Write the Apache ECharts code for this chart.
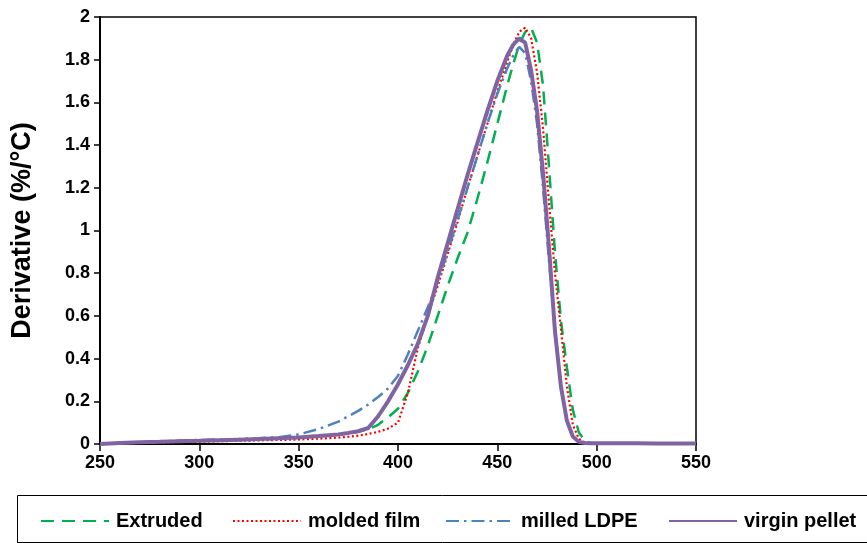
<!DOCTYPE html>
<html>
<head>
<meta charset="utf-8">
<script src="https://cdn.jsdelivr.net/npm/echarts@6/dist/echarts.min.js"></script>
<style>
html,body{margin:0;padding:0;background:#fff;}
#chart{width:867px;height:543px;}
</style>
</head>
<body>
<div id="chart"></div>
<script>
// Temperature (°C)
var temps = [250,260,270,280,290,300,310,320,330,340,350,360,370,
  375,380,385,390,395,400,405,410,415,420,425,430,435,440,445,450,455,
  458,461,464,467,470,473,476,479,482,485,488,491,494,497,
  500,510,520,530,540,550];

// Derivative (%/°C)
var extruded = [0,0.004,0.007,0.01,0.012,0.015,0.017,0.02,0.022,0.026,0.03,0.036,0.044,
  0.05,0.057,0.068,0.09,0.125,0.165,0.24,0.34,0.46,0.6,0.74,0.87,0.99,1.15,1.32,1.5,1.68,
  1.78,1.87,1.93,1.95,1.88,1.68,1.3,0.9,0.58,0.36,0.16,0.055,0.015,0.005,
  0.004,0.003,0.003,0.002,0.002,0.002];

var moldedFilm = [0,0.003,0.005,0.007,0.009,0.011,0.013,0.015,0.017,0.019,0.021,0.025,0.03,
  0.034,0.039,0.047,0.057,0.072,0.1,0.24,0.45,0.6,0.74,0.89,1.04,1.2,1.35,1.5,1.65,1.79,
  1.87,1.93,1.95,1.9,1.74,1.48,1.13,0.8,0.54,0.27,0.09,0.025,0.007,0.004,
  0.003,0.003,0.002,0.002,0.002,0.002];

var milledLDPE = [0,0.005,0.009,0.012,0.016,0.019,0.021,0.024,0.027,0.032,0.045,0.07,0.105,
  0.13,0.155,0.185,0.22,0.26,0.32,0.42,0.53,0.64,0.76,0.9,1.05,1.2,1.35,1.5,1.64,1.76,
  1.82,1.86,1.83,1.7,1.5,1.2,0.86,0.54,0.28,0.11,0.035,0.01,0.004,0.003,
  0.003,0.003,0.002,0.002,0.002,0.002];

var virginPellet = [0,0.005,0.008,0.01,0.013,0.015,0.018,0.02,0.023,0.027,0.03,0.037,0.045,
  0.052,0.06,0.075,0.13,0.2,0.28,0.37,0.47,0.6,0.78,0.94,1.1,1.26,1.41,1.56,1.7,1.82,
  1.87,1.9,1.88,1.75,1.56,1.27,0.92,0.53,0.27,0.11,0.035,0.01,0.005,0.003,
  0.003,0.003,0.003,0.002,0.002,0.002];

var seriesNames = ['Extruded','molded film','milled LDPE','virgin pellet'];
var xTicks = {min:250, max:550, step:50};
var yTicks = {min:0, max:2, step:0.2};

function pairs(ys){ return temps.map(function(t,i){ return [t, ys[i]]; }); }

var FONT = '"Liberation Sans Narrow","Liberation Sans",Arial,sans-serif';
var chart = echarts.init(document.getElementById('chart'), null, {renderer:'canvas'});

function legendAt(name, left){
  return {
    data:[name], left:left, top:511, padding:0, itemWidth:68, itemHeight:14,
    itemStyle:{opacity:0},
    textStyle:{fontFamily:FONT, fontWeight:'bold', fontSize:20, color:'#000', padding:[0,0,0,2]},
    selectedMode:false
  };
}

var option = {
  animation:false,
  backgroundColor:'#fff',
  grid:{left:100, top:17, width:596, height:427, show:true, borderColor:'#000', borderWidth:1.5, containLabel:false},
  xAxis:{
    type:'value', min:xTicks.min, max:xTicks.max, interval:xTicks.step,
    axisLine:{lineStyle:{color:'#000', width:2}},
    axisTick:{show:true, inside:false, length:7, lineStyle:{color:'#000', width:1.5}},
    axisLabel:{fontFamily:FONT, fontWeight:'bold', fontSize:18, color:'#000', margin:10},
    splitLine:{show:false}
  },
  yAxis:{
    type:'value', min:yTicks.min, max:yTicks.max, interval:yTicks.step,
    name:'Derivative (%/°C)', nameLocation:'middle', nameGap:64, nameRotate:90,
    nameTextStyle:{fontFamily:FONT, fontWeight:'bold', fontSize:27, color:'#000'},
    axisLine:{lineStyle:{color:'#000', width:2}},
    axisTick:{show:true, inside:false, length:6, lineStyle:{color:'#000', width:1.5}},
    axisLabel:{fontFamily:FONT, fontWeight:'bold', fontSize:18, color:'#000', margin:10,
      formatter:function(v){ return String(+v.toFixed(1)); }},
    splitLine:{show:false}
  },
  legend:[
    legendAt(seriesNames[0], 40),
    legendAt(seriesNames[1], 232),
    legendAt(seriesNames[2], 445),
    legendAt(seriesNames[3], 668)
  ],
  graphic:[{
    type:'rect', left:15, top:493, silent:true,
    shape:{x:0, y:0, width:880, height:47},
    style:{fill:'none', stroke:'#000', lineWidth:1}
  }],
  series:[
    {name:seriesNames[0], type:'line', data:pairs(extruded), showSymbol:false, symbol:'none',
      lineStyle:{color:'#00B050', width:2.5, type:[13,8]}, itemStyle:{color:'#00B050'}},
    {name:seriesNames[1], type:'line', data:pairs(moldedFilm), showSymbol:false, symbol:'none',
      lineStyle:{color:'#FF0000', width:2.2, type:[2,2.5]}, itemStyle:{color:'#FF0000'}},
    {name:seriesNames[2], type:'line', data:pairs(milledLDPE), showSymbol:false, symbol:'none',
      lineStyle:{color:'#4F81BD', width:2.5, type:[13,5,2.5,5]}, itemStyle:{color:'#4F81BD'}},
    {name:seriesNames[3], type:'line', data:pairs(virginPellet), showSymbol:false, symbol:'none',
      lineStyle:{color:'#8064A2', width:4}, itemStyle:{color:'#8064A2'}}
  ]
};
chart.setOption(option);
</script>
</body>
</html>
